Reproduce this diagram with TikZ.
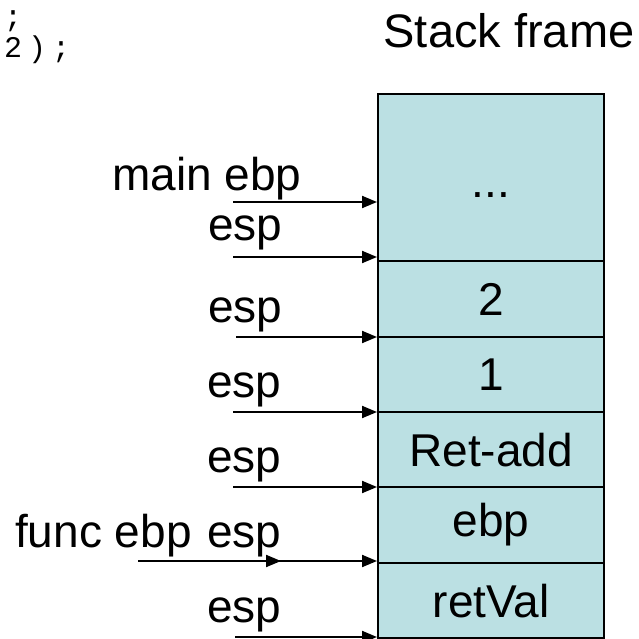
\documentclass[tikz,border=0pt]{standalone}
\usepackage{fontspec}
\setmainfont{Liberation Sans}
\newfontfamily\codefont{Liberation Mono}
\usetikzlibrary{arrows.meta}
\definecolor{cellfill}{RGB}{187,224,227}
\tikzset{
  cell/.style={draw=black, line width=2.2pt, fill=cellfill, minimum width=226pt,
    inner sep=0pt, anchor=north west, font=\fontsize{46}{52}\selectfont},
  lbl/.style={anchor=base west, inner sep=0pt, font=\fontsize{46}{52}\selectfont},
  ptr/.style={line width=2pt, -{Triangle[length=15pt,width=12pt]}},
  code/.style={anchor=base west, inner sep=0pt, font=\codefont\fontsize{30}{30}\selectfont}
}
\begin{document}
\begin{tikzpicture}[x=1pt, y=-1pt]
  \useasboundingbox (0,0) rectangle (638,639);

  % fragment of the calling code
  \node[code] (c1) at (4,27) {;};
  \node[code] (c2) at (4,58) {2\hspace{6pt})\hspace{6pt};};

  \node[anchor=base, inner sep=0pt, font=\fontsize{47}{52}\selectfont] (title) at (509,48) {Stack frame};

  % stack cells, top to bottom
  \node[cell, minimum height=167pt] (r0) at (377,93)  {};
  \node[cell, minimum height=76pt]  (r1) at (377,260) {2};
  \node[cell, minimum height=75pt]  (r2) at (377,336) {1};
  \node[cell, minimum height=75pt]  (r3) at (377,411) {Ret-add};
  \node[cell, minimum height=76pt]  (r4) at (377,486) {ebp};
  \node[cell, minimum height=75pt]  (r5) at (377,562) {retVal};
  \node[anchor=base, inner sep=0pt, font=\fontsize{46}{52}\selectfont] (dots) at (r0.center |- 0,197) {...};

  % register labels
  \node[lbl] (mebp) at (112,190) {main ebp};
  \node[lbl] (e1) at (208,240) {esp};
  \node[lbl] (e2) at (208,322) {esp};
  \node[lbl] (e3) at (207,397) {esp};
  \node[lbl] (e4) at (207,472) {esp};
  \node[lbl] (febp) at (15,547) {func ebp};
  \node[lbl] (e5) at (207,547) {esp};
  \node[lbl] (e6) at (207,622) {esp};

  % pointer tails
  \coordinate (tm) at (233,202);
  \coordinate (t1) at (233,257);
  \coordinate (t2) at (236,337);
  \coordinate (t3) at (233,412);
  \coordinate (t4) at (233,487);
  \coordinate (tf) at (138,561);
  \coordinate (t5) at (233,561);
  \coordinate (h5) at (281,561);
  \coordinate (t6) at (235,637);

  % pointers into the frame
  \draw[ptr] (tm) -- (tm -| r0.west);
  \draw[ptr] (t1) -- (t1 -| r0.west);
  \draw[ptr] (t2) -- (t2 -| r1.west);
  \draw[ptr] (t3) -- (t3 -| r2.west);
  \draw[ptr] (t4) -- (t4 -| r3.west);
  \draw[ptr] (tf) -- (tf -| r4.west);
  \draw[ptr] (t5) -- (h5);
  \draw[ptr] (t6) -- (t6 -| r5.west);
\end{tikzpicture}
\end{document}
